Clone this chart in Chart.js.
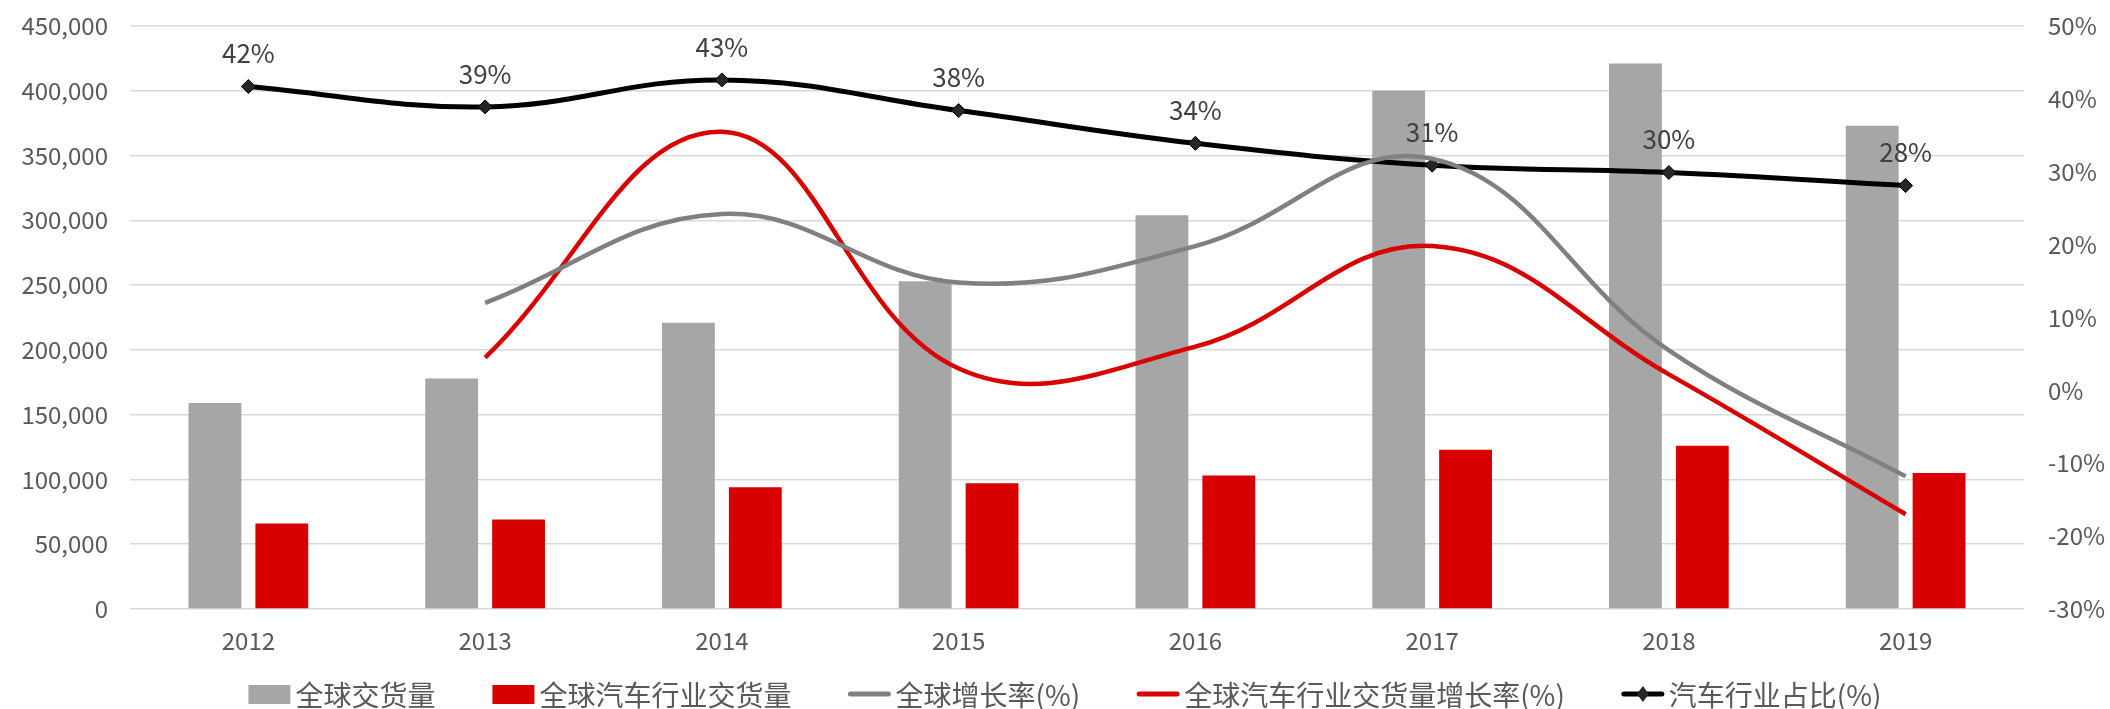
<!DOCTYPE html>
<html>
<head>
<meta charset="utf-8">
<script src="https://cdn.jsdelivr.net/npm/chart.js@4.4.0/dist/chart.umd.min.js"></script>
<style>
  html, body { margin: 0; padding: 0; background: #fff; }
  #wrap { width: 2110px; height: 709px; }
</style>
</head>
<body>
<div id="wrap"><canvas id="chart" width="2110" height="709"></canvas></div>
<script>
// 数据
const years = ['2012', '2013', '2014', '2015', '2016', '2017', '2018', '2019'];
const globalVolume = [159000, 178000, 221000, 253000, 304000, 400000, 421000, 373000];
const autoVolume = [66000, 69000, 94000, 97000, 103000, 123000, 126000, 105000];
const globalGrowth = [null, 12.0, 24.2, 14.8, 19.8, 31.8, 5.5, -11.8];
const autoGrowth = [null, 4.5, 35.5, 3.0, 6.0, 19.8, 2.2, -17.0];
const autoShare = [41.7, 38.9, 42.6, 38.4, 33.9, 30.9, 29.9, 28.1];

const leftTicks = { min: 0, max: 450000, step: 50000 };
const rightTicks = { min: -30, max: 50, step: 10 };

const FONT = "'Noto Sans CJK SC', 'Noto Sans', sans-serif";
const GRAY = '#a6a6a6';
const RED = '#d90000';
const TEXT = '#595959';

// 折线上的百分比标签
const shareLabels = {
    id: 'shareLabels',
    afterDatasetsDraw(chart) {
        const meta = chart.getDatasetMeta(4);
        const ctx = chart.ctx;
        ctx.save();
        ctx.font = '26px ' + FONT;
        ctx.fillStyle = '#404040';
        ctx.textAlign = 'center';
        ctx.textBaseline = 'middle';
        meta.data.forEach((pt, i) => {
            ctx.fillText(Math.round(autoShare[i]) + '%', pt.x, pt.y - 33);
        });
        ctx.restore();
    }
};

// 底部图例
const bottomLegend = {
    id: 'bottomLegend',
    afterDraw(chart) {
        const ctx = chart.ctx;
        const y = 694;
        const keyW = 42, keyGap = 5, itemGap = 57;
        ctx.save();
        ctx.font = '28px ' + FONT;
        ctx.textBaseline = 'middle';
        const items = chart.data.datasets.map(ds => ({
            ds: ds,
            w: keyW + keyGap + ctx.measureText(ds.label).width
        }));
        const total = items.reduce((s, it) => s + it.w, 0) + itemGap * (items.length - 1);
        let x = 1065 - total / 2;
        items.forEach(it => {
            const ds = it.ds;
            if (ds.type === 'bar') {
                ctx.fillStyle = ds.backgroundColor;
                ctx.fillRect(x, y - 9, keyW, 19);
            } else {
                ctx.strokeStyle = ds.borderColor;
                ctx.lineWidth = 5;
                ctx.lineCap = 'round';
                ctx.beginPath();
                ctx.moveTo(x + 2, y);
                ctx.lineTo(x + keyW - 2, y);
                ctx.stroke();
                if (ds.pointStyle === 'rectRot') {
                    ctx.fillStyle = ds.pointBackgroundColor;
                    ctx.beginPath();
                    ctx.moveTo(x + keyW / 2, y - 8);
                    ctx.lineTo(x + keyW / 2 + 6, y);
                    ctx.lineTo(x + keyW / 2, y + 8);
                    ctx.lineTo(x + keyW / 2 - 6, y);
                    ctx.closePath();
                    ctx.fill();
                }
            }
            ctx.fillStyle = TEXT;
            ctx.textAlign = 'left';
            ctx.fillText(ds.label, x + keyW + keyGap, y + 1);
            x += it.w + itemGap;
        });
        ctx.restore();
    }
};

// 固定纵轴宽度，并去掉刻度文字带来的上下留白
function fixVertical(width) {
    return function(scale) {
        scale.width = width;
        scale.paddingTop = 0;
        scale.paddingBottom = 0;
    };
}

const ctx = document.getElementById('chart').getContext('2d');
new Chart(ctx, {
    data: {
        labels: years,
        datasets: [
            {
                type: 'bar',
                label: '全球交货量',
                data: globalVolume,
                backgroundColor: GRAY,
                yAxisID: 'y',
                categoryPercentage: 0.565,
                barPercentage: 0.79,
                order: 10
            },
            {
                type: 'bar',
                label: '全球汽车行业交货量',
                data: autoVolume,
                backgroundColor: RED,
                yAxisID: 'y',
                categoryPercentage: 0.565,
                barPercentage: 0.79,
                order: 10
            },
            {
                type: 'line',
                label: '全球增长率(%)',
                data: globalGrowth,
                borderColor: '#808080',
                borderWidth: 4.5,
                tension: 0.4,
                pointRadius: 0,
                fill: false,
                yAxisID: 'y1',
                order: 1
            },
            {
                type: 'line',
                label: '全球汽车行业交货量增长率(%)',
                data: autoGrowth,
                borderColor: RED,
                borderWidth: 4.5,
                tension: 0.4,
                pointRadius: 0,
                fill: false,
                yAxisID: 'y1',
                order: 2
            },
            {
                type: 'line',
                label: '汽车行业占比(%)',
                data: autoShare,
                borderColor: '#000000',
                borderWidth: 5,
                tension: 0.4,
                pointStyle: 'rectRot',
                pointRadius: 7,
                pointBackgroundColor: '#262626',
                pointBorderColor: '#000000',
                pointBorderWidth: 1,
                fill: false,
                yAxisID: 'y1',
                order: 3
            }
        ]
    },
    options: {
        responsive: false,
        animation: false,
        devicePixelRatio: 1,
        layout: {
            padding: { top: 26, bottom: 50, left: 0, right: 0 }
        },
        plugins: {
            legend: { display: false },
            tooltip: { enabled: false }
        },
        scales: {
            x: {
                grid: { display: false },
                border: { display: false },
                ticks: {
                    color: TEXT,
                    font: { family: FONT, size: 24 },
                    padding: 9
                },
                afterFit(scale) { scale.height = 50; }
            },
            y: {
                position: 'left',
                min: leftTicks.min,
                max: leftTicks.max,
                border: { display: false },
                grid: { color: '#d9d9d9', lineWidth: 1.5, drawTicks: false },
                ticks: {
                    stepSize: leftTicks.step,
                    color: TEXT,
                    font: { family: FONT, size: 24 },
                    padding: 22,
                    callback: function(value) {
                        return value.toLocaleString('en-US');
                    }
                },
                afterFit: fixVertical(130)
            },
            y1: {
                position: 'right',
                min: rightTicks.min,
                max: rightTicks.max,
                border: { display: false },
                grid: { drawOnChartArea: false, drawTicks: false },
                ticks: {
                    stepSize: rightTicks.step,
                    color: TEXT,
                    font: { family: FONT, size: 24 },
                    padding: 24,
                    callback: function(value) {
                        return value + '%';
                    }
                },
                afterFit: fixVertical(86)
            }
        }
    },
    plugins: [shareLabels, bottomLegend]
});
</script>
</body>
</html>
